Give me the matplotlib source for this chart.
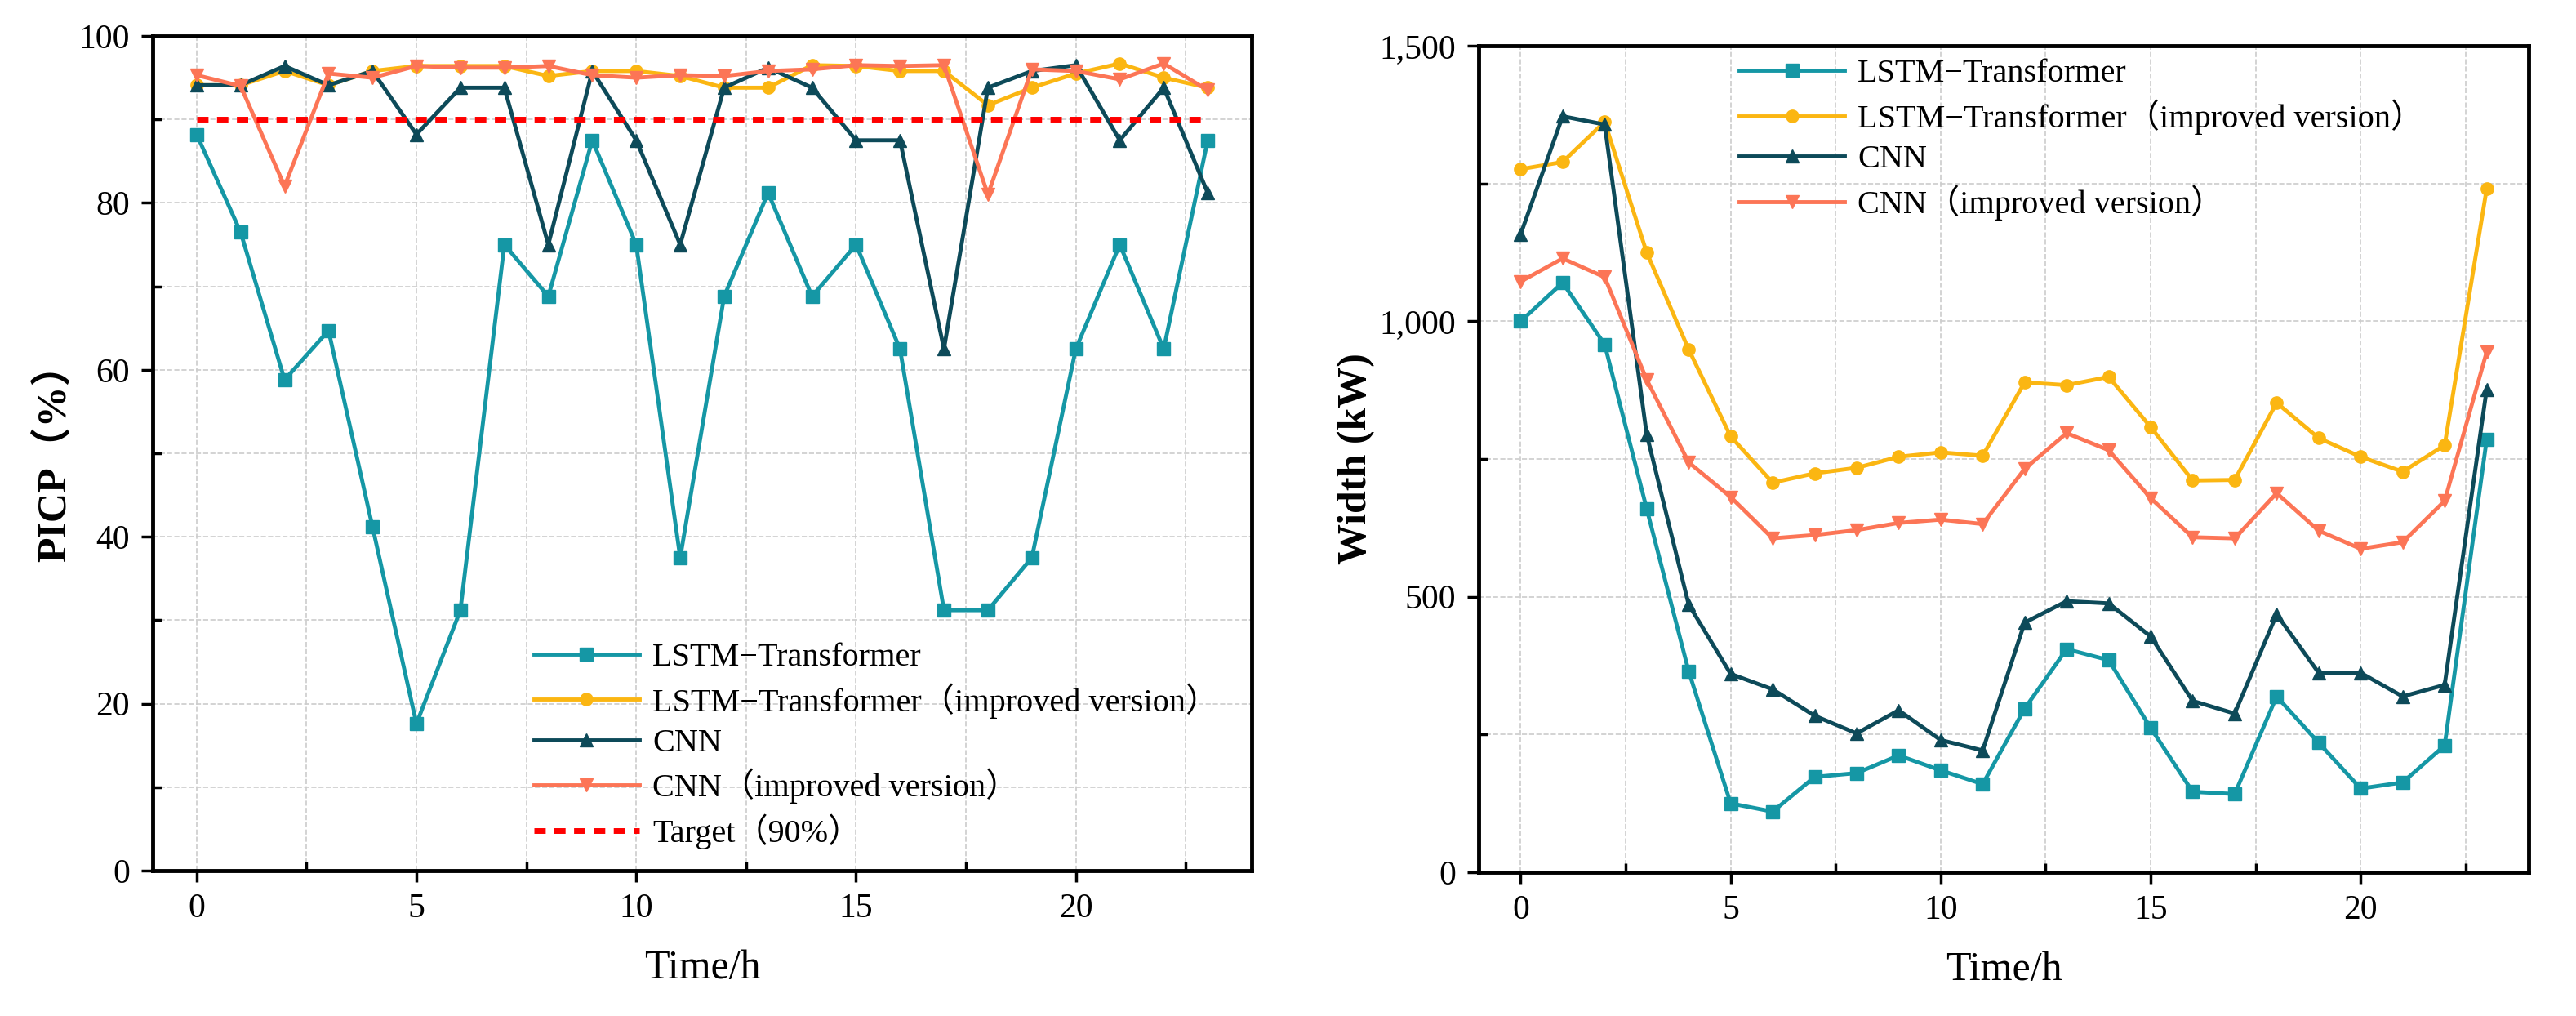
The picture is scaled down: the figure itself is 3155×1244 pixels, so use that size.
import matplotlib
matplotlib.use("Agg")
import matplotlib.pyplot as plt
from matplotlib.ticker import MultipleLocator, FuncFormatter

hours = list(range(24))
labels = ["LSTM\u2212Transformer", "LSTM\u2212Transformer\uff08improved version\uff09",
          "CNN", "CNN\uff08improved version\uff09"]
target_label = "Target\uff0890%\uff09"

picp_lstm = [88.2,76.5,58.8,64.7,41.2,17.6,31.2,75,68.8,87.5,75,37.5,68.8,81.2,68.8,75,62.5,31.2,31.2,37.5,62.5,75,62.5,87.5]
picp_lstm_imp = [94.1,94.1,95.8,94.1,95.8,96.4,96.4,96.4,95.2,95.8,95.8,95.2,93.8,93.8,96.5,96.4,95.8,95.8,91.7,93.8,95.5,96.7,95.0,93.8]
picp_cnn = [94.1,94.1,96.4,94.1,95.8,88.2,93.8,93.8,75,95.8,87.5,75,93.8,96.2,93.8,87.5,87.5,62.5,93.8,95.8,96.5,87.5,93.8,81.2]
picp_cnn_imp = [95.3,94.0,82.0,95.5,95.0,96.4,96.2,96.2,96.4,95.3,95.0,95.3,95.2,95.8,96.0,96.5,96.4,96.5,81.0,96.0,95.8,94.8,96.7,93.5]
target = [90]*24

w_lstm = [1000,1070,958,660,365,125,110,173,180,212,185,160,297,405,385,262,146,142,319,235,152,163,230,785]
w_lstm_imp = [1276,1289,1362,1125,949,791,707,724,734,754,762,756,889,884,899,808,711,712,852,788,754,727,775,1240]
w_cnn = [1158,1372,1357,795,486,360,332,284,252,294,240,221,453,492,488,428,311,288,468,362,362,319,340,876]
w_cnn_imp = [1072,1114,1080,894,744,681,606,612,621,634,640,632,732,797,766,679,608,606,688,620,587,599,674,944]

colors = ["#1597a5", "#fbb612", "#0d4a59", "#fc7556"]
markers = ["s", "o", "^", "v"]

plt.rcParams['font.family'] = ['Liberation Serif', 'Noto Sans CJK SC', 'DejaVu Sans']

fig = plt.figure(figsize=(31.55, 12.44), dpi=100)
ax1 = fig.add_axes([187/3155, 1-1066/1244, 1346/3155, 1022/1244])
ax2 = fig.add_axes([1811/3155, 1-1068/1244, 1286/3155, 1012/1244])

def style(ax):
    for s in ax.spines.values():
        s.set_linewidth(3.5)
    ax.tick_params(axis='both', which='major', labelsize=30, width=2.5, length=10, direction='out', pad=10)
    ax.tick_params(axis='both', which='minor', width=2.5, length=8, direction='in')
    ax.grid(True, which='both', linestyle='--', color='#cccccc', linewidth=1.2)
    ax.set_axisbelow(True)
    ax.xaxis.set_major_locator(MultipleLocator(5))
    ax.xaxis.set_minor_locator(MultipleLocator(2.5))
    ax.set_xlim(-1, 24)
    ax.set_xlabel("Time/h", fontsize=36, labelpad=22)

series1 = [picp_lstm, picp_lstm_imp, picp_cnn, picp_cnn_imp]
for d, c, m, l in zip(series1, colors, markers, labels):
    ax1.plot(hours, d, color=c, marker=m, markersize=11, linewidth=3.5, label=l)
ax1.plot(hours, target, color='#ff0000', linestyle='--', linewidth=5, dashes=(2, 1.5), label=target_label)
style(ax1)
ax1.set_ylim(0, 100)
ax1.yaxis.set_major_locator(MultipleLocator(20))
ax1.yaxis.set_minor_locator(MultipleLocator(10))
ax1.set_ylabel("PICP\uff08%\uff09", fontsize=36, fontweight='bold')
ax1.legend(loc='lower left', bbox_to_anchor=(0.32, -0.01), frameon=False, fontsize=29,
           handlelength=3.2, handletextpad=0.4, labelspacing=0.3)

series2 = [w_lstm, w_lstm_imp, w_cnn, w_cnn_imp]
for d, c, m, l in zip(series2, colors, markers, labels):
    ax2.plot(hours, d, color=c, marker=m, markersize=11, linewidth=3.5, label=l)
style(ax2)
ax2.set_ylim(0, 1500)
ax2.yaxis.set_major_locator(MultipleLocator(500))
ax2.yaxis.set_minor_locator(MultipleLocator(250))
ax2.yaxis.set_major_formatter(FuncFormatter(lambda v, p: f"{int(v):,}"))
ax2.set_ylabel("Width (kW)", fontsize=36, fontweight='bold')
ax2.legend(loc='upper left', bbox_to_anchor=(0.22, 1.02), frameon=False, fontsize=29,
           handlelength=3.2, handletextpad=0.4, labelspacing=0.3)

fig.savefig("out.png", dpi=100)
